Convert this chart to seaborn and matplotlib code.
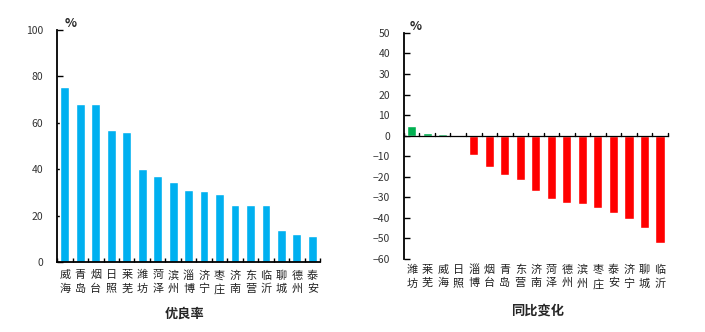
import numpy as np
import pandas as pd
import matplotlib
matplotlib.use("Agg")
import matplotlib.pyplot as plt
import seaborn as sns

# 优良率 by city (%)
rate_cities = ["威海", "青岛", "烟台", "日照", "莱芜", "潍坊", "菏泽", "滨州", "淄博",
               "济宁", "枣庄", "济南", "东营", "临沂", "聊城", "德州", "泰安"]
rate_values = [75.3, 68.1, 68.1, 56.9, 56.0, 40.0, 37.1, 34.5, 30.9,
               30.6, 29.4, 24.7, 24.7, 24.7, 13.7, 12.2, 11.2]

# 同比变化 by city (percentage points)
change_cities = ["潍坊", "莱芜", "威海", "日照", "淄博", "烟台", "青岛", "东营", "济南",
                 "菏泽", "德州", "滨州", "枣庄", "泰安", "济宁", "聊城", "临沂"]
change_values = [4.7, 1.1, 0.7, -0.8, -9.4, -15.1, -19.1, -21.7, -26.9,
                 -31.0, -32.9, -33.4, -35.0, -37.5, -40.7, -44.8, -52.4]

BLUE = "#00B0F0"
GREEN = "#00B050"
RED = "#FF0000"

sns.set_theme(style="white")
plt.rcParams["font.family"] = ["Noto Sans CJK SC", "DejaVu Sans"]

fig = plt.figure(figsize=(7.05, 3.32), dpi=100)
ax1 = fig.add_axes([0.081, 0.211, 0.373, 0.699])
ax2 = fig.add_axes([0.573, 0.220, 0.374, 0.681])


def vertical(name):
    return "\n".join(name)


def style_axis(ax, n):
    for side in ("top", "right"):
        ax.spines[side].set_visible(False)
    for side in ("left", "bottom"):
        ax.spines[side].set_color("black")
        ax.spines[side].set_linewidth(1.3)
    ax.set_xlim(-0.5, n - 0.5)
    ax.set_xticks(np.arange(n))
    ax.set_xticks(np.arange(n + 1) - 0.5, minor=True)
    ax.tick_params(axis="x", which="major", length=0, pad=6,
                   labelsize=8, labelcolor="#222222")
    ax.tick_params(axis="x", which="minor", direction="in", length=3,
                   width=1, color="black", bottom=True)
    ax.tick_params(axis="y", direction="in", length=4, width=1,
                   color="black", left=True, labelsize=7.5,
                   labelcolor="#333333", pad=10)
    ax.set_xlabel("")
    ax.set_ylabel("")


# Left panel: 优良率
df1 = pd.DataFrame({"city": rate_cities, "value": rate_values})
sns.barplot(data=df1, x="city", y="value", color=BLUE, width=0.57,
            saturation=1, ax=ax1)
ax1.set_ylim(0, 100)
ax1.set_yticks(np.arange(0, 101, 20))
style_axis(ax1, len(rate_cities))
ax1.set_xticklabels([vertical(c) for c in rate_cities], linespacing=1.4)
ax1.text(0.03, 1.0, "%", transform=ax1.transAxes, fontsize=9,
         fontweight="bold", ha="left", va="bottom")
fig.text(0.262, 0.055, "优良率", ha="center", va="center",
         fontsize=9.5, fontweight="bold")

# Right panel: 同比变化
df2 = pd.DataFrame({"city": change_cities, "value": change_values})
df2["sign"] = np.where(df2["value"] > 0, "up", "down")
sns.barplot(data=df2, x="city", y="value", hue="sign",
            palette={"up": GREEN, "down": RED}, width=0.6,
            saturation=1, dodge=False, legend=False, ax=ax2)
ax2.set_ylim(-60, 50)
ax2.set_yticks(np.arange(-60, 51, 10))
style_axis(ax2, len(change_cities))
ax2.spines["bottom"].set_position(("data", 0))
ax2.spines["bottom"].set_linewidth(0.9)
ax2.tick_params(axis="x", which="minor", length=0)
# boundary ticks on the zero line
for xb in np.arange(len(change_cities) + 1) - 0.5:
    ax2.plot([xb, xb], [0, 1.4], color="black", lw=1, clip_on=False,
             zorder=4)
# category labels sit below the plot area
ax2.set_xticklabels([])
trans = ax2.get_xaxis_transform()
for i, c in enumerate(change_cities):
    ax2.text(i, -0.025, vertical(c), transform=trans, ha="center", va="top",
             fontsize=8, color="#222222", linespacing=1.4)
ax2.text(0.02, 1.0, "%", transform=ax2.transAxes, fontsize=9,
         fontweight="bold", ha="left", va="bottom")
fig.text(0.762, 0.065, "同比变化", ha="center", va="center",
         fontsize=9.5, fontweight="bold")

fig.savefig("out.png", dpi=100, facecolor="white")
